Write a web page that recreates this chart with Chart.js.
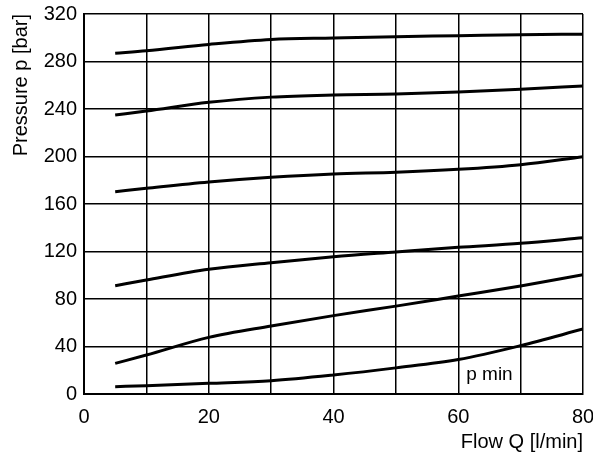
<!DOCTYPE html>
<html>
<head>
<meta charset="utf-8">
<script src="https://cdn.jsdelivr.net/npm/chart.js@4"></script>
<style>
  html, body { margin: 0; padding: 0; background: #fff; }
  #wrap { width: 593px; height: 452px; }
</style>
</head>
<body>
<div id="wrap"><canvas id="grafico" width="593" height="452"></canvas></div>
<script>
// flow Q [l/min]
var vazao = [5, 10, 20, 30, 40, 50, 60, 70, 80];
// pressure p [bar], one curve per setting
var curva1 = [287, 289, 294.4, 298.6, 299.8, 300.9, 301.7, 302.6, 303];
var curva2 = [235, 238.3, 245.6, 250, 251.8, 252.6, 254.3, 256.6, 259.4];
var curva3 = [170.4, 173.2, 178.5, 182.5, 185.3, 186.7, 189.2, 193.1, 199.8];
var curva4 = [91.2, 96, 105, 110.6, 115.6, 119.6, 123.5, 126.9, 131.5];
var curva5 = [25.8, 32.8, 47.7, 57.3, 66, 74, 82.5, 91, 100.5];
var curva6 = [6.2, 7, 9, 11.2, 16, 22, 29, 40.7, 54.7];
var ticksX = [0, 20, 40, 60, 80];
var rotulo = { texto: 'p min', x: 65, y: 16 };

var fonte = 'Liberation Sans, Arial, Helvetica, sans-serif';

function pontos(valores) {
	let p = [];
	for (let i = 0; i < vazao.length; i++) {
		p.push({ x: vazao[i], y: valores[i] });
	}
	return p;
}

function serie(valores) {
	return {
		data: pontos(valores),
		borderColor: '#000',
		borderWidth: 3,
		pointRadius: 0,
		fill: false,
		cubicInterpolationMode: 'monotone'
	};
}

var textoPMin = {
	id: 'textoPMin',
	afterDatasetsDraw: function (chart) {
		let ctx = chart.ctx;
		ctx.save();
		ctx.font = '19px ' + fonte;
		ctx.fillStyle = '#000';
		ctx.textAlign = 'center';
		ctx.textBaseline = 'middle';
		ctx.fillText(rotulo.texto, chart.scales.x.getPixelForValue(rotulo.x), chart.scales.y.getPixelForValue(rotulo.y));
		ctx.restore();
	}
};

var grafico = new Chart(document.getElementById('grafico'), {
	type: 'line',
	data: {
		datasets: [serie(curva1), serie(curva2), serie(curva3), serie(curva4), serie(curva5), serie(curva6)]
	},
	plugins: [textoPMin],
	options: {
		responsive: false,
		animation: false,
		layout: { padding: { top: 14, right: 10, left: 0, bottom: 0 } },
		plugins: {
			legend: { display: false },
			tooltip: { enabled: false }
		},
		scales: {
			x: {
				type: 'linear',
				min: 0,
				max: 80,
				afterFit: function (s) { s.height = 58; s.paddingLeft = 0; s.paddingRight = 0; },
				grid: { color: '#000', lineWidth: 1.5, drawTicks: false },
				border: { color: '#000', width: 2 },
				ticks: {
					stepSize: 10,
					padding: 11,
					color: '#000',
					maxRotation: 0,
					font: { family: fonte, size: 20 },
					callback: function (v) { return ticksX.indexOf(v) >= 0 ? String(v) : ''; }
				},
				title: {
					display: true,
					align: 'end',
					text: 'Flow Q [l/min]',
					color: '#000',
					padding: { top: 0, bottom: 0 },
					font: { family: fonte, size: 20, lineHeight: 1 }
				}
			},
			y: {
				min: 0,
				max: 320,
				afterFit: function (s) { s.width = 84; s.paddingTop = 0; s.paddingBottom = 0; },
				grid: { color: '#000', lineWidth: 1.5, drawTicks: false },
				border: { color: '#000', width: 2 },
				ticks: {
					stepSize: 40,
					padding: 7,
					color: '#000',
					font: { family: fonte, size: 20 }
				},
				title: {
					display: true,
					align: 'end',
					text: 'Pressure p [bar]',
					color: '#000',
					padding: { top: 11, bottom: 0 },
					font: { family: fonte, size: 20, lineHeight: 1 }
				}
			}
		}
	}
});
</script>
</body>
</html>
